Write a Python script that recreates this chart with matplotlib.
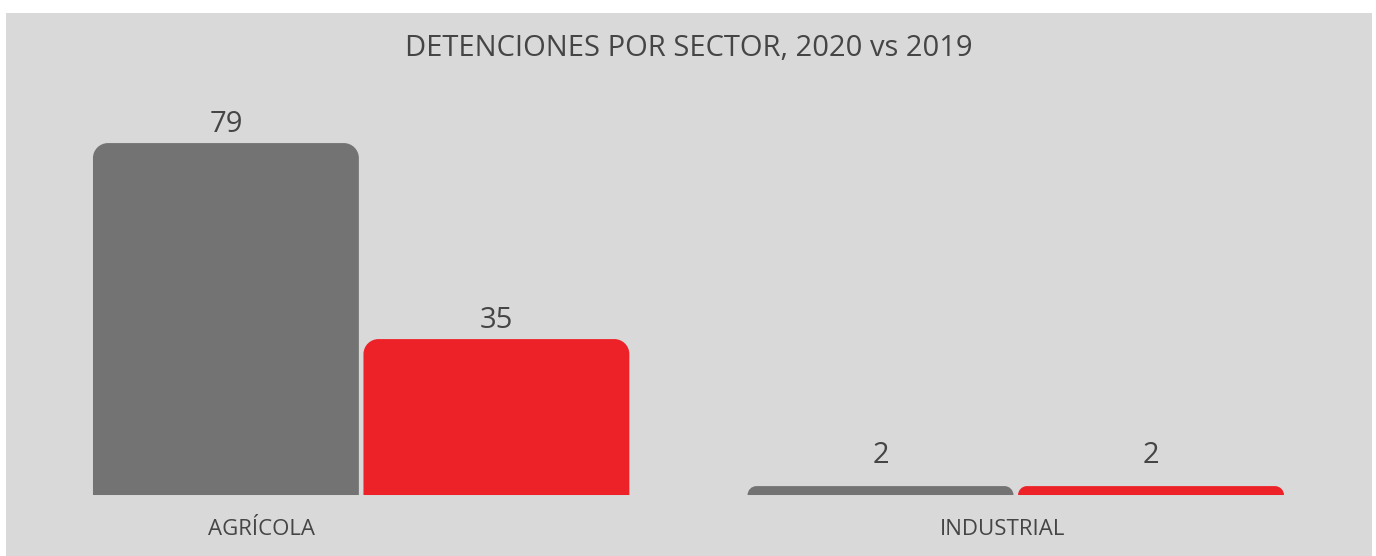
import numpy as np
import matplotlib
matplotlib.use('Agg')
import matplotlib.pyplot as plt
from matplotlib.path import Path
from matplotlib.patches import PathPatch

plt.rcParams['font.family'] = ['Open Sans', 'DejaVu Sans']

# data
categories = ['AGRÍCOLA', 'INDUSTRIAL']
values_2019 = [79, 2]
values_2020 = [35, 2]
title = 'DETENCIONES POR SECTOR, 2020 vs 2019'

col_gray = '#737373'
col_red = '#ed2229'
bg = '#d9d9d9'
txt = '#454545'

W, H = 1376, 556
fig = plt.figure(figsize=(W / 100, H / 100), dpi=100, facecolor='white')
ax = fig.add_axes([6 / W, 0, 1366 / W, 543 / H])
ax.set_facecolor(bg)

px_x = 270.5   # pixels per x unit
px_y = 4.456   # pixels per y unit
ax.set_xlim(-1.313, 3.737)
ax.set_ylim(-13.69, 108.2)

group_pos = np.array([0.0, 2.42])
bar_w = 0.983
label_pos = [-0.37, 2.372]
min_label_y = 4.7  # small bars get their label lifted a bit


def top_rounded_bar(ax, xc, h, w, color, r_px=15):
    r = min(r_px, h * px_y)
    rx, ry = r / px_x, r / px_y
    x0, x1 = xc - w / 2, xc + w / 2
    k = 0.5523
    verts = [(x0, 0), (x0, h - ry),
             (x0, h - ry + k * ry), (x0 + rx - k * rx, h), (x0 + rx, h),
             (x1 - rx, h),
             (x1 - rx + k * rx, h), (x1, h - ry + k * ry), (x1, h - ry),
             (x1, 0), (x0, 0)]
    codes = [Path.MOVETO, Path.LINETO,
             Path.CURVE4, Path.CURVE4, Path.CURVE4,
             Path.LINETO,
             Path.CURVE4, Path.CURVE4, Path.CURVE4,
             Path.LINETO, Path.CLOSEPOLY]
    ax.add_patch(PathPatch(Path(verts, codes), facecolor=color, edgecolor='none'))


for i, g in enumerate(group_pos):
    for off, vals, c in [(-0.5, values_2019, col_gray), (0.5, values_2020, col_red)]:
        v = vals[i]
        top_rounded_bar(ax, g + off, v, bar_w, c)
        ax.annotate(str(v), (g + off, max(v, min_label_y)), xytext=(0, 8),
                    textcoords='offset points', ha='center', va='baseline',
                    fontsize=21, color=txt)

# category labels below the baseline
for lp, cat in zip(label_pos, categories):
    ax.text(lp, -40 / px_y, cat, ha='center', va='baseline', fontsize=16, color=txt)

ax.set_xticks([])
ax.set_yticks([])
for s in ax.spines.values():
    s.set_visible(False)

ax.text(0.5, 1 - 21 / 543, title, transform=ax.transAxes, ha='center', va='top',
        fontsize=21, color=txt)

fig.savefig('out.png', dpi=100, facecolor='white')
